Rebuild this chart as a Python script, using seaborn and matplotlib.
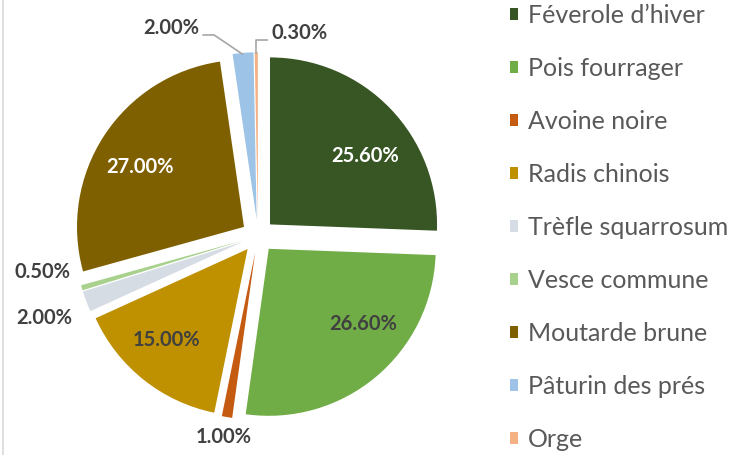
import numpy as np
import matplotlib
matplotlib.use("Agg")
import matplotlib.pyplot as plt
from matplotlib.lines import Line2D
import seaborn as sns

# data
names = ["Féverole d\u2019hiver", "Pois fourrager", "Avoine noire", "Radis chinois",
         "Trèfle squarrosum", "Vesce commune", "Moutarde brune", "Pâturin des prés", "Orge"]
shares = [25.6, 26.6, 1.0, 15.0, 2.0, 0.5, 27.0, 2.0, 0.3]
colors = ["#375623", "#70AD47", "#C55A11", "#BF9000", "#D6DCE4",
          "#A9D18E", "#7F6000", "#9DC3E6", "#F4B183"]
# label styling / placement (radius in pie radii, angle shift in degrees)
label_color = ["white", "#404040", "#404040", "#404040", "#404040",
               "#404040", "white", "#404040", "#404040"]
label_dist = [0.80, 0.82, 1.22, 0.83, 1.37, 1.31, 0.82, 1.35, 1.24]
label_shift = [-7, 10, 0, -3, 0, -7, 3, 18, -12]
has_leader = [False, False, False, False, False, False, False, True, True]

sns.set_theme(style="white")
plt.rcParams["font.family"] = ["Lato", "DejaVu Sans"]

W, H = 740, 455
R = 167.0                     # pie radius in pixels
cx, cy = 258.0, 236.0         # pie centre, pixels from top-left

fig = plt.figure(figsize=(W / 100, H / 100), dpi=100)
ax = fig.add_axes([0, 0, 1, 1])

pal = sns.color_palette(colors)
explode = [0.1] * len(shares)
wedges, _ = ax.pie(shares, colors=pal, startangle=90, counterclock=False,
                   explode=explode, radius=1, center=(0, 0),
                   wedgeprops=dict(linewidth=0))
ax.set_xlim(-cx / R, (W - cx) / R)
ax.set_ylim(-(H - cy) / R, cy / R)
ax.set_aspect("equal")
ax.axis("off")

total = sum(shares)
start = 90.0
texts = []
for i, v in enumerate(shares):
    sweep = 360 * v / total
    mid = start - sweep / 2
    start -= sweep
    a = np.deg2rad(mid + label_shift[i])
    r = label_dist[i]
    t = ax.text(r * np.cos(a), r * np.sin(a), f"{v:.2f}%", ha="center", va="center",
                fontsize=14.5, fontweight="bold", color=label_color[i])
    texts.append((t, mid))

# leader lines for the two small labels at the top
fig.canvas.draw()
inv = ax.transData.inverted()
for (t, mid), lead in zip(texts, has_leader):
    if not lead:
        continue
    bb = t.get_window_extent()
    m = np.deg2rad(mid)
    tip = np.array([1.09 * np.cos(m), 1.09 * np.sin(m)])
    tx, ty = inv.transform((bb.x0, bb.y0 + 0.15 * bb.height))
    rx, _ = inv.transform((bb.x1, 0))
    if tx > tip[0]:
        edge = (tx - 0.02, ty)
        elbow = (tip[0], ty)
    else:
        edge = (rx + 0.02, ty)
        elbow = (rx + 0.09, ty)
    ax.plot([edge[0], elbow[0], tip[0]], [edge[1], elbow[1], tip[1]],
            color="#A6A6A6", lw=1.2, solid_capstyle="butt")

leg = ax.legend(wedges, names, loc="upper left", bbox_to_anchor=(510 / W, 1 - 4 / H),
                bbox_transform=fig.transFigure, frameon=False, fontsize=18,
                handlelength=0.33, handleheight=0.33, handletextpad=0.4,
                labelspacing=1.2, borderaxespad=0, borderpad=0)
for txt in leg.get_texts():
    txt.set_color("#595959")

fig.add_artist(Line2D([2.5 / W, 2.5 / W], [0, 1], transform=fig.transFigure,
                      color="#D9D9D9", lw=1.2))

fig.savefig("out.png", dpi=100)
